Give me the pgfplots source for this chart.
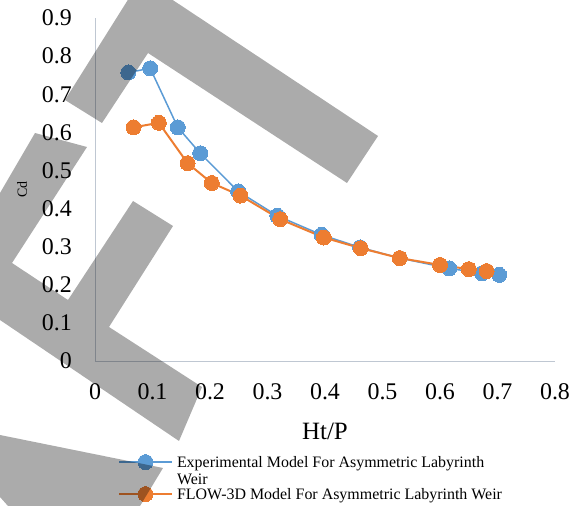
\documentclass[border=0pt]{standalone}
\usepackage{fontspec}
\setmainfont{Liberation Serif}
\usepackage{pgfplots}
\pgfplotsset{compat=1.18}

\definecolor{expblue}{HTML}{5B9BD5}
\definecolor{flowor}{HTML}{ED7D31}
\definecolor{axgray}{RGB}{191,199,210}

\begin{document}
\begin{tikzpicture}
\useasboundingbox (0,0) rectangle (579bp,506bp);
\begin{axis}[
  at={(95bp,145bp)}, anchor=south west,
  scale only axis, width=460bp, height=343bp,
  xmin=0, xmax=0.8, ymin=0, ymax=0.9,
  axis lines=left,
  axis line style={-, draw=axgray, line width=1bp},
  xtick={0,0.1,0.2,0.3,0.4,0.5,0.6,0.7,0.8},
  ytick={0,0.1,0.2,0.3,0.4,0.5,0.6,0.7,0.8,0.9},
  major tick length=0pt,
  tick label style={font=\fontsize{24}{26}\selectfont, inner sep=0pt},
  xticklabel shift=22bp,
  yticklabel shift=23bp,
  /pgf/number format/fixed,
  /pgf/number format/precision=1,
  /pgf/number format/assume math mode=true,
  xlabel={Ht/P},
  xlabel style={font=\fontsize{25}{27}\selectfont, at={(axis description cs:0.5,-0.2303)}, anchor=base},
  ylabel={Cd},
  ylabel style={font=\fontsize{14}{16}\selectfont, at={(axis description cs:-0.1587,0.5)}, anchor=center},
  legend cell align=left,
  legend style={at={(axis description cs:0.0500,-0.273)}, anchor=north west,
    draw=none, fill=none, inner sep=0pt, outer sep=0pt,
    column sep=4bp, row sep=17bp,
    font=\fontsize{16}{16.5}\selectfont,
    nodes={inner sep=0pt, anchor=base west}},
  legend image code/.code={%
    \draw[mark repeat=2, mark phase=2, yshift=5.5bp]
      plot coordinates {(0bp,0bp) (26.5bp,0bp) (53bp,0bp)};},
]
% experimental measurements
\addplot[color=expblue, line width=1.5bp, mark=*, mark size=7.5bp,
  mark options={fill=expblue, draw=expblue, line width=0pt}]
  coordinates {
  (0.058,0.757) (0.096,0.768) (0.144,0.613) (0.183,0.545)
  (0.249,0.445) (0.317,0.381) (0.394,0.331) (0.461,0.298)
  (0.530,0.270) (0.616,0.243) (0.673,0.230) (0.703,0.226)
  };
\addlegendentry{\parbox[t]{325bp}{\raggedright Experimental Model For Asymmetric Labyrinth Weir}}
% FLOW-3D simulation results
\addplot[color=flowor, line width=2bp, mark=*, mark size=7.5bp,
  mark options={fill=flowor, draw=flowor, line width=0pt}]
  coordinates {
  (0.067,0.613) (0.111,0.625) (0.161,0.519) (0.203,0.467)
  (0.253,0.434) (0.322,0.372) (0.398,0.324) (0.462,0.296)
  (0.530,0.270) (0.600,0.252) (0.650,0.241) (0.681,0.236)
  };
\addlegendentry{FLOW-3D Model For Asymmetric Labyrinth Weir}
\end{axis}

% translucent grey bands laid over the figure
\begin{scope}[x=1bp, y=-1bp, shift={(0bp,506bp)}]
\fill[black, fill opacity=0.33]
  (65,100) -- (102,123) -- (148,53) -- (347,183) -- (378,136) -- (141,-21) -- cycle
  (0,193) -- (35,133) -- (87,147) -- (12,263) -- (68,300) -- (133,201) -- (173,226)
    -- (109,327) -- (202,387) -- (179,441) -- (0,320) -- cycle
  (0,435) -- (163,468) -- (140,506) -- (8,506) -- (0,497) -- cycle;
\end{scope}
\end{tikzpicture}
\end{document}
